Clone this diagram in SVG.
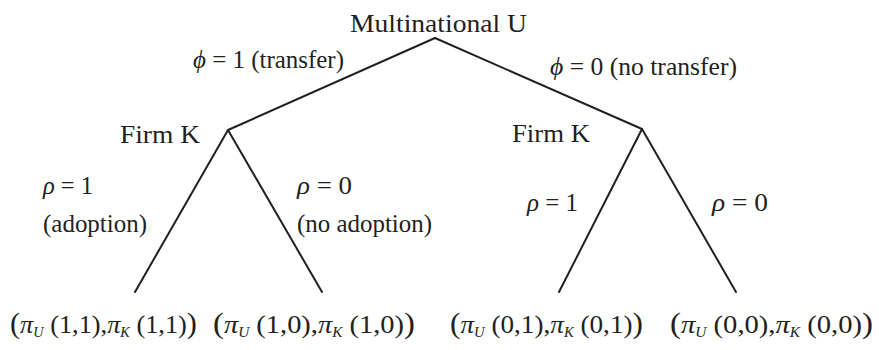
<svg xmlns="http://www.w3.org/2000/svg" width="879" height="350" viewBox="0 0 879 350" font-family="'Liberation Serif', 'Times New Roman', Times, serif">
<style>
.t{font-family:'Liberation Serif','Times New Roman',Times,serif;font-size:26px;fill:#231f20}
.i{font-style:italic}
.s{font-style:italic;font-size:14px}
.b{font-size:30px}
.e line{stroke:#231f20;stroke-width:2;stroke-linecap:round}
</style>
<rect width="879" height="350" fill="#fff"/>
<g id="connectors" class="e">
<line x1="435" y1="38" x2="228" y2="130"/>
<line x1="435" y1="38" x2="642" y2="129"/>
<line x1="228" y1="130" x2="135" y2="292"/>
<line x1="228" y1="130" x2="322" y2="292"/>
<line x1="642" y1="129" x2="559" y2="292"/>
<line x1="642" y1="129" x2="736" y2="292"/>
</g>
<g id="root"><text class="t" x="350" y="32" textLength="177" lengthAdjust="spacingAndGlyphs">Multinational U</text></g>
<g id="firmK1"><text class="t" x="120" y="143" textLength="80" lengthAdjust="spacingAndGlyphs">Firm K</text></g>
<g id="firmK2"><text class="t" x="512" y="142" textLength="78" lengthAdjust="spacingAndGlyphs">Firm K</text></g>
<g id="labels">
<text class="t" x="193" y="68" textLength="151" lengthAdjust="spacingAndGlyphs"><tspan class="i">ϕ</tspan> = 1 (transfer)</text>
<text class="t" x="550" y="75" textLength="187" lengthAdjust="spacingAndGlyphs"><tspan class="i">ϕ</tspan> = 0 (no transfer)</text>
<text class="t" x="43" y="194" textLength="50" lengthAdjust="spacingAndGlyphs"><tspan class="i">ρ</tspan> = 1</text>
<text class="t" x="43" y="232" textLength="104" lengthAdjust="spacingAndGlyphs">(adoption)</text>
<text class="t" x="297" y="194" textLength="55" lengthAdjust="spacingAndGlyphs"><tspan class="i">ρ</tspan> = 0</text>
<text class="t" x="297" y="232" textLength="135" lengthAdjust="spacingAndGlyphs">(no adoption)</text>
<text class="t" x="527" y="211" textLength="51" lengthAdjust="spacingAndGlyphs"><tspan class="i">ρ</tspan> = 1</text>
<text class="t" x="712" y="211" textLength="56" lengthAdjust="spacingAndGlyphs"><tspan class="i">ρ</tspan> = 0</text>
</g>
<g id="payoff11"><text class="t" x="10" y="333" textLength="187" lengthAdjust="spacingAndGlyphs"><tspan class="b">(</tspan><tspan class="i">π</tspan><tspan class="s" dy="4">U</tspan><tspan dy="-4"> (1,1),</tspan><tspan class="i">π</tspan><tspan class="s" dy="4">K</tspan><tspan dy="-4"> (1,1)</tspan><tspan class="b">)</tspan></text></g>
<g id="payoff10"><text class="t" x="213" y="333" textLength="202" lengthAdjust="spacingAndGlyphs"><tspan class="b">(</tspan><tspan class="i">π</tspan><tspan class="s" dy="4">U</tspan><tspan dy="-4"> (1,0),</tspan><tspan class="i">π</tspan><tspan class="s" dy="4">K</tspan><tspan dy="-4"> (1,0)</tspan><tspan class="b">)</tspan></text></g>
<g id="payoff01"><text class="t" x="450" y="333" textLength="193" lengthAdjust="spacingAndGlyphs"><tspan class="b">(</tspan><tspan class="i">π</tspan><tspan class="s" dy="4">U</tspan><tspan dy="-4"> (0,1),</tspan><tspan class="i">π</tspan><tspan class="s" dy="4">K</tspan><tspan dy="-4"> (0,1)</tspan><tspan class="b">)</tspan></text></g>
<g id="payoff00"><text class="t" x="670" y="333" textLength="203" lengthAdjust="spacingAndGlyphs"><tspan class="b">(</tspan><tspan class="i">π</tspan><tspan class="s" dy="4">U</tspan><tspan dy="-4"> (0,0),</tspan><tspan class="i">π</tspan><tspan class="s" dy="4">K</tspan><tspan dy="-4"> (0,0)</tspan><tspan class="b">)</tspan></text></g>
</svg>
